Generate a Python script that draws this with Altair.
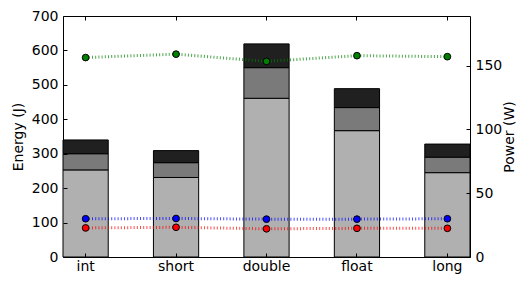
import altair as alt
import pandas as pd

cats = ["int", "short", "double", "float", "long"]
energy_base = [253, 231, 461, 367, 245]
energy_mid = [47, 43, 89, 67, 45]
energy_top = [40, 35, 69, 55, 38]
power_green = [156.4, 159.1, 153.4, 157.9, 157.1]
power_blue = [30.0, 30.2, 29.7, 29.7, 30.0]
power_red = [22.8, 23.3, 22.1, 22.5, 22.5]

seg_names = ["base", "mid", "top"]
seg_colors = ["#b0b0b0", "#7a7a7a", "#202020"]
series_names = ["green", "blue", "red"]
series_colors = ["#008000", "#0000ff", "#ff0000"]

rows = []
for i, c in enumerate(cats):
    for k, (name, vals) in enumerate(zip(seg_names, [energy_base, energy_mid, energy_top])):
        rows.append({"cat": c, "seg": name, "order": k, "energy": vals[i]})
bars_df = pd.DataFrame(rows)

prow = []
for name, vals in zip(series_names, [power_green, power_blue, power_red]):
    for c, v in zip(cats, vals):
        prow.append({"cat": c, "series": name, "power": v})
power_df = pd.DataFrame(prow)

W, H = 407, 241
font = "DejaVu Sans"
xscale = alt.Scale(domain=cats, paddingInner=0.5, paddingOuter=0)
escale = alt.Scale(domain=[0, 700], nice=False)
pscale = alt.Scale(domain=[0, 189], nice=False)
cscale = alt.Scale(domain=seg_names + series_names, range=seg_colors + series_colors)
evals = list(range(0, 701, 100))
pvals = [0, 50, 100, 150]

tick_axis = dict(labels=False, domain=False, ticks=True, tickSize=4, tickColor="black",
                 tickWidth=1, title=None, grid=False, zindex=2)

bars = alt.Chart(bars_df).mark_bar(stroke="black", strokeWidth=1).encode(
    x=alt.X("cat:N", scale=xscale, sort=cats,
            axis=alt.Axis(orient="bottom", ticks=False, domain=False, labelPadding=2,
                          labelAngle=0, title=None, grid=False)),
    y=alt.Y("energy:Q", stack="zero", scale=escale,
            axis=alt.Axis(orient="left", values=evals, ticks=False, domain=False, grid=False,
                          labelPadding=5, title="Energy (J)", titleAngle=270,
                          titleBaseline="middle", titleX=-45, titleY=H / 2)),
    color=alt.Color("seg:N", scale=cscale, legend=None),
    order=alt.Order("order:Q"),
)

eticks = alt.Chart(bars_df).mark_point(opacity=0).encode(
    x=alt.X("cat:N", scale=xscale, sort=cats, axis=alt.Axis(orient="top", offset=-H, **tick_axis)),
    y=alt.Y("energy:Q", scale=escale, axis=alt.Axis(orient="right", offset=-W, values=evals, **tick_axis)),
)

lines = alt.Chart(power_df).mark_line(strokeWidth=3, strokeDash=[1, 2.2], opacity=0.7).encode(
    x=alt.X("cat:N", scale=xscale, sort=cats, axis=alt.Axis(orient="bottom", offset=-H, **tick_axis)),
    y=alt.Y("power:Q", scale=pscale,
            axis=alt.Axis(orient="right", values=pvals, ticks=False, domain=False, grid=False,
                          labelPadding=5, title="Power (W)", titleAngle=270,
                          titleBaseline="middle", titleX=39, titleY=H / 2)),
    color=alt.Color("series:N", scale=cscale, legend=None),
)

pts = alt.Chart(power_df).mark_circle(size=45, stroke="black", strokeWidth=1, opacity=1).encode(
    x=alt.X("cat:N", scale=xscale, sort=cats, axis=None),
    y=alt.Y("power:Q", scale=pscale, axis=alt.Axis(orient="left", offset=-W, values=pvals, **tick_axis)),
    fill=alt.Color("series:N", scale=cscale, legend=None),
)

chart = alt.layer(bars, eticks, lines, pts).resolve_scale(
    y="independent"
).resolve_axis(
    x="independent", y="independent"
).properties(
    width=W, height=H,
    autosize=alt.AutoSizeParams(type="none"),
    padding={"left": 55, "top": 8, "right": 47, "bottom": 20},
).configure_view(
    stroke="black", strokeWidth=1
).configure_axis(
    labelFont=font, labelFontSize=14, labelColor="black",
    titleFont=font, titleFontSize=14, titleFontWeight="normal", titleColor="black",
)

chart.save("out.html", embed_options={"renderer": "svg", "actions": False})
